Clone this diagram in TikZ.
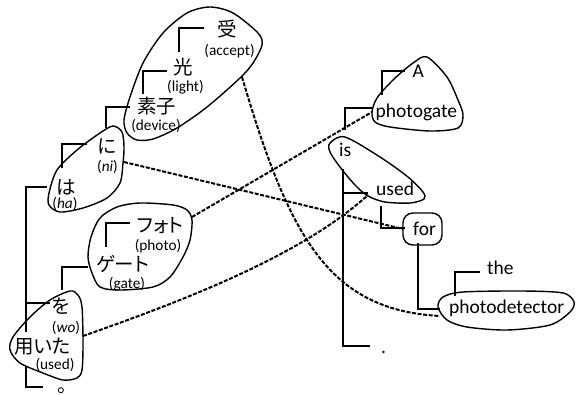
\documentclass[tikz,border=0pt]{standalone}
\usepackage{fontspec}
\setmainfont{Carlito}
\newfontfamily\jpfont[RawFeature=+palt]{Noto Sans CJK JP}
\begin{document}
\begin{tikzpicture}[x=1pt,y=-1pt,
  word/.style={anchor=base west,inner sep=0pt,font=\fontsize{19.5}{22}\selectfont,text height=14pt,text depth=4pt},
  jword/.style={word,font=\fontsize{19.5}{22}\selectfont\jpfont},
  gloss/.style={anchor=base,inner sep=0pt,font=\fontsize{15.3}{17}\selectfont},
  tree/.style={line width=2.4pt},
  blob/.style={line width=1.4pt},
  link/.style={line width=2pt,dash pattern=on 4pt off 1.6pt}]
\useasboundingbox (0,0) rectangle (577,394);

% Japanese words
\node[jword] (ju) at (217,36) {受};
\node[jword] (hikari) at (173,74.5) {光};
\node[jword] (soshi) at (137,113) {素子};
\node[jword] (ni) at (97,153) {に};
\node[jword] (ha) at (56,194.5) {は};
\node[jword] (foto) at (137,232) {フォト};
\node[jword] (geeto) at (96,271) {ゲート};
\node[jword] (wo) at (52,313) {を};
\node[jword] (mochiita) at (14,353) {用いた};
\node[jword] (maru) at (57,392) {。};

% glosses
\node[gloss] (g-ju) at (229.5,55) {(accept)};
\node[gloss] (g-hikari) at (185.5,91) {(light)};
\node[gloss] (g-soshi) at (156,130) {(device)};
\node[gloss] (g-ni) at (107.5,171) {(\textit{ni})};
\node[gloss] (g-ha) at (65,208) {(\textit{ha})};
\node[gloss] (g-foto) at (158,250.5) {(photo)};
\node[gloss] (g-geeto) at (127,288) {(gate)};
\node[gloss] (g-wo) at (66,332) {(\textit{wo})};
\node[gloss] (g-mochiita) at (55,369.5) {(used)};

% English words
\node[word] (a) at (412.5,77) {A};
\node[word] (photogate) at (375.5,117) {photogate};
\node[word] (is) at (339,156) {is};
\node[word] (used) at (376,195) {used};
\node[word] (for) at (413,235) {for};
\node[word] (the) at (487,274) {the};
\node[word] (photodetector) at (449,313) {photodetector};
\node[word] (dot) at (381,353.5) {.};

% Japanese tree
\draw[tree] ([xshift=-13pt,yshift=3pt]ju.west) -| ([xshift=6pt,yshift=8.5pt]hikari.north west);
\draw[tree] ([xshift=-6pt,yshift=-1.5pt]hikari.west) -| ([xshift=6pt,yshift=5pt]soshi.north west);
\draw[tree] ([xshift=-7pt,yshift=1pt]soshi.west) -| ([xshift=9pt,yshift=11pt]ni.north west);
\draw[tree] ([xshift=-10pt,yshift=4pt]ni.west) -| ([xshift=6pt,yshift=12.5pt]ha.north west);
\coordinate (jroot) at ([xshift=12pt,yshift=7pt]mochiita.north west);
\draw[tree] ([xshift=-9pt,yshift=2.5pt]ha.west) -| (jroot);
\draw[tree] (jroot) |- ([xshift=-2pt,yshift=5pt]wo.west);
\draw[tree] ([xshift=-14pt]maru.west) -| ([xshift=12pt,yshift=-10pt]mochiita.south west);
\draw[tree] ([xshift=-7pt,yshift=4pt]foto.west) -| ([xshift=10pt,yshift=10pt]geeto.north west);
\draw[tree] ([xshift=-8pt,yshift=-1pt]geeto.west) -| ([xshift=10pt,yshift=9pt]wo.north west);

% English tree
\draw[tree] ([xshift=-7.5pt,yshift=1pt]a.west) -| ([xshift=6.5pt,yshift=8pt]photogate.north west);
\draw[tree] ([xshift=-3.5pt,yshift=4pt]photogate.west) -| ([xshift=6pt,yshift=12pt]is.north west);
\coordinate (eroot) at ([xshift=4pt,yshift=-9pt]is.south west);
\draw[tree] (eroot) |- ([xshift=-11pt,yshift=2.5pt]dot.west);
\draw[tree] (eroot) |- ([xshift=-8pt,yshift=-3pt]used.west);
\draw[tree] ([xshift=5pt,yshift=-7pt]used.south west) |- ([xshift=-8pt,yshift=2pt]for.west);
\draw[tree] ([xshift=5pt,yshift=-4pt]for.south west) |- ([xshift=-9pt,yshift=-1pt]photodetector.west);
\draw[tree] ([xshift=-7pt,yshift=-3pt]the.west) -| ([xshift=6pt,yshift=3pt]photodetector.north west);

% phrase blobs
\draw[blob] plot[smooth cycle] coordinates {(210,7) (233,13) (258,33) (262,45) (253,63) (240,78) (207,107) (177,128) (153,139) (137,140) (127,133) (124,120) (130,97) (143,63) (163,33) (187,13)};
\draw[blob] plot[smooth cycle] coordinates {(113,126) (122,132) (124,147) (123,163) (120,183) (107,198) (83,208) (60,212) (49,205) (49,193) (57,170) (77,150) (100,133)};
\draw[blob] plot[smooth cycle] coordinates {(100,218) (117,207) (140,203) (173,205) (187,210) (192,220) (190,240) (183,257) (170,277) (153,287) (120,290) (100,287) (92,273) (88,257) (91,237)};
\draw[blob] plot[smooth cycle] coordinates {(70,291) (78,295) (82,307) (83,343) (82,370) (77,378) (63,380) (43,373) (20,363) (10,350) (13,337) (30,317) (50,300)};
\draw[blob] plot[smooth cycle] coordinates {(427,57) (447,77) (458,100) (463,115) (458,128) (430,131) (390,127) (375,122) (372,112) (377,98) (393,80) (413,63)};
\draw[blob] plot[smooth cycle] coordinates {(330,143) (345,137) (380,157) (408,177) (423,192) (424,199) (410,203) (385,202) (368,196) (355,185) (340,167) (330,152)};
\draw[blob] plot[smooth cycle] coordinates {(438,307) (443,297) (463,292) (523,291) (563,293) (574,302) (570,312) (550,325) (507,330) (467,327) (447,320)};
\draw[blob,rounded corners=10pt] (403,213) rectangle (442,245);

% alignment links
\coordinate (b-ju) at (242,77);
\coordinate (b-ni) at (124,162);
\coordinate (b-foto) at (192,217);
\coordinate (b-mochiita) at (83,336);
\coordinate (b-photogate) at (372,112);
\coordinate (b-used) at (368,195);
\coordinate (b-for) at (403,229);
\coordinate (b-photodetector) at (440,316);
\draw[link] (b-ju) .. controls (290,240) and (330,310) .. (b-photodetector);
\draw[link] (b-ni) -- (b-for);
\draw[link] (b-foto) -- (b-photogate);
\draw[link] (b-mochiita) .. controls (200,295) and (305,252) .. (b-used);

\end{tikzpicture}
\end{document}
